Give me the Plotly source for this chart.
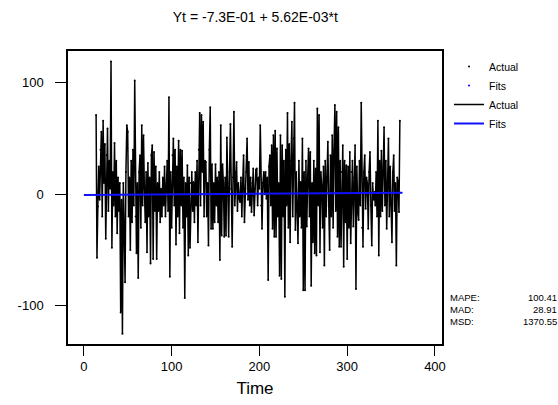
import plotly.graph_objects as go

# ---- data ----
t_start = 14
actual = [
    71, -57, -11, 25, -5, 40, 56, -20, 66, 10, 45, -40, 35, 59, -15, 30, 5,          # t14-30
    119, -48, 20, -10, 46, -20, 30, -35, 15, -15, 10, -106, -5, -125, 10, -30, -79,   # t31-47
    20, 62, 56, -20, 15, -50, 30, -25, 40, -10, 102, -20, -53, 10, -75, 20, 35, -30,  # t48-65
    62, -10, 53, 5, -25, 20, -52,                                                    # t66-72
    28, -20, 15, -62, 35, 44, -58, 38, -15, 25, -58,                                 # t73-83
    10, -15, 20, -25, 5, -20, 15, -10, 25, -20, 10, 30,                              # t84-95
    -15, 87, -74, 20, -30,                                                           # t96-100
    35, 50, -10, 40, -45, 25, -20, 48, -35, 40, -10, 39,                             # t101-112
    -30, 15, -93, 10, -20, 26, -55, 15, -48, 10, 20, -15, 11,                        # t113-125
    -25, 20, -10, 30, -43, 40, 73, -10, 71, 20, 65, -20, 30, 29, -20, 10, -46, 40,   # t126-143
    78, -31, 27,                                                                     # t144-146
    -31, 10, -25, 27, -10, 15, -25, 20, -59, 62, -37, 27, 10, -38, 15, -37, 51, 10,  # t147-164
    -38, 20, 63, 5, -47, 15, 74, -10, 20, 29, -15, 10, -4, -7, 15, -20, 10, 35,      # t165-182
    -25, 5, 20, 50, -5, 29, -10, 15, -16, 10, 23, -19, 5, 22, 23, -10, 15, 5,        # t183-200
    62, -10, -31, 10, 20, 0, 20, -4, 15, -77, 25, 35, -10, 44, -31, 53, -38, 57,     # t201-218
    -38, 41, -20, 10, -73, 53, -76, 44, -20, 30, -92, 40, -10, 73, -30, 45, -43, 30, # t219-236
    65, -20, 50, 82, -32, 20, -15, -44, 30, -20, 11, -30, 50, -86, 20, -86, 30, -29, # t237-254
    15, 41, -20, 38, -82, 10, -43, 30, -53, 23, -55, 77, -10, 71, -52, 20, 8, -30,   # t255-272
    25, -64, 30, -20, 15, 47, -10, -50, 35, -20, 53, -30, 40, 80, -15, 74, -38, 60,  # t273-290
    -47, 30, -47, 20, 44, -65, 30, -25, 26, -58, 25, -30, 38, -44, 20, 30, -29, 15,  # t291-308
    44, -85, 25, -15, -23, 30, -10, 82, -30, -47, 20, 35, -13, 15, 10, -31, 20, 38,  # t309-326
    -10, -46, 10, -5, 2, -10, 20, -20, 66, -55, 30, -20, 39, -15, 20, 60, -10, 30,   # t327-344
    -31, 10, 50, -20, 25, -10, -43, 20, 35, -15, 10, -64, 15, 11, -16, 66,           # t345-360
]
time = list(range(t_start, t_start + len(actual)))

# fitted trend line end points (Yt = -7.3E-01 + 5.62E-03*t)
fit_time = [1, 362]
fit_vals = [-0.72, 1.30]

x_ticks = [0, 100, 200, 300, 400]
y_ticks = [-100, 0, 100]
y_tick_text = ["-100", "0", "100"]

stat_names = ["MAPE:", "MAD:", "MSD:"]
stat_vals = ["100.41", "28.91", "1370.55"]

FONT = "Liberation Sans, Arial, sans-serif"
L, R, T, B = 68, 116, 51, 61
W, H = 558, 405
PW, PH = W - L - R, H - T - B


def px_x(x):
    return (x - L) / PW


def px_y(y):
    return (H - B - y) / PH


fig = go.Figure()
fig.add_trace(go.Scatter(x=time, y=actual, mode="markers", name="Actual",
                         marker=dict(color="black", size=2)))
fig.add_trace(go.Scatter(x=fit_time, y=fit_vals, mode="markers", name="Fits",
                         marker=dict(color="blue", size=2)))
fig.add_trace(go.Scatter(x=time, y=actual, mode="lines", name="Actual",
                         line=dict(color="black", width=1.5)))
fig.add_trace(go.Scatter(x=fit_time, y=fit_vals, mode="lines", name="Fits",
                         line=dict(color="#1010ff", width=2)))

fig.update_layout(
    width=W, height=H,
    margin=dict(l=L, r=R, t=T, b=B, autoexpand=False),
    paper_bgcolor="white", plot_bgcolor="white",
    font=dict(family=FONT, size=12, color="black"),
    title=dict(text="Yt = -7.3E-01 + 5.62E-03*t", x=0.4575, xanchor="center",
               y=0.958, yanchor="middle", font=dict(size=14)),
    legend=dict(x=px_x(449), y=px_y(52), xanchor="left", yanchor="top",
                font=dict(size=10.5), bgcolor="rgba(0,0,0,0)",
                itemwidth=30, tracegroupgap=0),
    xaxis=dict(range=[-18, 408], tickvals=x_ticks, ticks="outside", ticklen=10,
               tickwidth=1.2, tickcolor="black", showline=True, linecolor="black",
               linewidth=1.5, mirror=True, showgrid=False, zeroline=False,
               tickfont=dict(size=13), automargin=False,
               title=dict(text="Time", font=dict(size=17), standoff=9)),
    yaxis=dict(range=[-134.3, 128.5], tickvals=y_ticks, ticktext=y_tick_text,
               ticks="outside", ticklen=11, tickwidth=1.2, tickcolor="black",
               showline=True, linecolor="black", linewidth=1.5, mirror=True,
               showgrid=False, zeroline=False, tickfont=dict(size=13),
               ticklabelstandoff=9, automargin=False),
)

for i, (n, v) in enumerate(zip(stat_names, stat_vals)):
    yy = 297 + 12 * i
    fig.add_annotation(x=px_x(448), y=px_y(yy), xref="paper", yref="paper",
                       text=n, showarrow=False, xanchor="left",
                       yanchor="middle", font=dict(size=9.5))
    fig.add_annotation(x=px_x(559), y=px_y(yy), xref="paper", yref="paper",
                       text=v, showarrow=False, xanchor="right",
                       yanchor="middle", font=dict(size=9.5))

fig.write_html("out.html")
